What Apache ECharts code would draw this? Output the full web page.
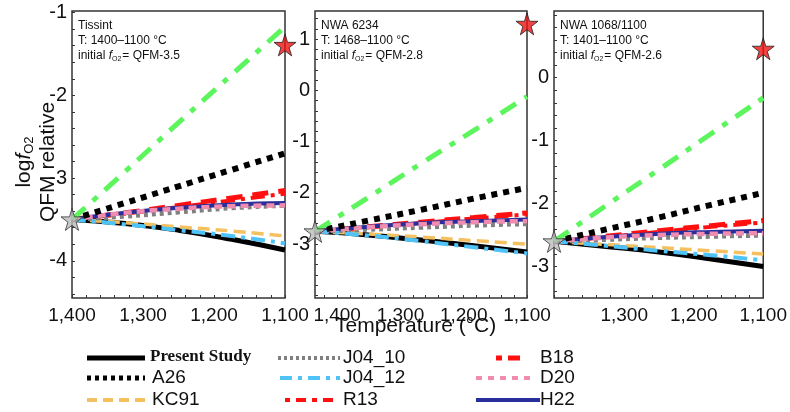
<!DOCTYPE html>
<html><head><meta charset="utf-8">
<script src="https://cdn.jsdelivr.net/npm/echarts@6/dist/echarts.min.js"></script>
<style>html,body{margin:0;background:#fff}#c{width:790px;height:412px}</style>
</head><body><div id="c"></div>
<script>
// panel temps (°C) and log fO2 curves (QFM relative)
var p1Temps = [1400, 1325, 1250, 1175, 1100];
var p1Present = [-3.5, -3.55, -3.63, -3.74, -3.87];
var p1BandLo = [-3.5, -3.6, -3.75, -3.93, -4.15];
var p1BandHi = [-3.5, -3.49, -3.48, -3.48, -3.49];
var p1A26 = [-3.5, -3.3, -3.1, -2.9, -2.7];
var p1Green = [-3.5, -2.92, -2.33, -1.75, -1.17];
var p1KC91 = [-3.5, -3.54, -3.59, -3.64, -3.7];
var p1J0412 = [-3.5, -3.56, -3.63, -3.7, -3.79];
var p1J0410 = [-3.5, -3.46, -3.41, -3.36, -3.33];
var p1B18 = [-3.5, -3.42, -3.33, -3.24, -3.15];
var p1R13 = [-3.5, -3.43, -3.35, -3.27, -3.19];
var p1D20 = [-3.5, -3.42, -3.37, -3.34, -3.33];
var p1H22 = [-3.5, -3.42, -3.36, -3.32, -3.3];
var p1Star = [1100, -1.39];

var p2Temps = [1435, 1351, 1268, 1184, 1100];
var p2Present = [-2.75, -2.82, -2.92, -3.03, -3.15];
var p2BandLo = [-2.75, -2.9, -3.1, -3.32, -3.57];
var p2BandHi = [-2.75, -2.78, -2.8, -2.83, -2.85];
var p2A26 = [-2.75, -2.54, -2.33, -2.11, -1.9];
var p2Green = [-2.75, -2.09, -1.43, -0.78, -0.12];
var p2KC91 = [-2.75, -2.8, -2.86, -2.93, -3.0];
var p2J0412 = [-2.75, -2.83, -2.94, -3.06, -3.18];
var p2J0410 = [-2.75, -2.71, -2.67, -2.63, -2.6];
var p2B18 = [-2.75, -2.66, -2.57, -2.48, -2.39];
var p2R13 = [-2.75, -2.67, -2.59, -2.5, -2.42];
var p2D20 = [-2.75, -2.67, -2.61, -2.57, -2.55];
var p2H22 = [-2.75, -2.66, -2.59, -2.55, -2.52];
var p2Star = [1100, 1.3];

var p3Temps = [1401, 1326, 1250, 1175, 1100];
var p3Present = [-2.6, -2.68, -2.77, -2.88, -3.0];
var p3BandLo = [-2.6, -2.73, -2.88, -3.05, -3.25];
var p3BandHi = [-2.6, -2.64, -2.67, -2.7, -2.72];
var p3A26 = [-2.6, -2.41, -2.22, -2.02, -1.83];
var p3Green = [-2.6, -2.03, -1.46, -0.89, -0.32];
var p3KC91 = [-2.6, -2.65, -2.7, -2.75, -2.8];
var p3J0412 = [-2.6, -2.67, -2.75, -2.82, -2.9];
var p3J0410 = [-2.6, -2.57, -2.54, -2.52, -2.5];
var p3B18 = [-2.6, -2.52, -2.43, -2.35, -2.27];
var p3R13 = [-2.6, -2.53, -2.45, -2.37, -2.3];
var p3D20 = [-2.6, -2.54, -2.5, -2.48, -2.47];
var p3H22 = [-2.6, -2.53, -2.48, -2.45, -2.43];
var p3Star = [1100, 0.46];

var x1Labels = [1400, 1300, 1200, 1100];
var x3Labels = [1300, 1200, 1100];
var y1Labels = [-4, -3, -2, -1];
var y2Labels = [-3, -2, -1, 0, 1];
var y3Labels = [-3, -2, -1, 0];

var STAR = 'path://M50,0 L61,35 L98,35 L68,57 L79,91 L50,70 L21,91 L32,57 L2,35 L39,35 Z';

var panels = [
  {t: p1Temps, pres: p1Present, lo: p1BandLo, hi: p1BandHi, a26: p1A26, g: p1Green, kc: p1KC91, j12: p1J0412, j10: p1J0410, b18: p1B18, r13: p1R13, d20: p1D20, h22: p1H22, star: p1Star,
   left: 72, width: 213, ymin: -4.45, ymax: -0.98, xmax: 1400, ylab: y1Labels, xlab: x1Labels,
   txt: ['Tissint', 'T: 1400–1100 °C'], fo2: 'QFM-3.5'},
  {t: p2Temps, pres: p2Present, lo: p2BandLo, hi: p2BandHi, a26: p2A26, g: p2Green, kc: p2KC91, j12: p2J0412, j10: p2J0410, b18: p2B18, r13: p2R13, d20: p2D20, h22: p2H22, star: p2Star,
   left: 315, width: 212, ymin: -4.05, ymax: 1.55, xmax: 1435, ylab: y2Labels, xlab: x1Labels,
   txt: ['NWA 6234', 'T: 1468–1100 °C'], fo2: 'QFM-2.8'},
  {t: p3Temps, pres: p3Present, lo: p3BandLo, hi: p3BandHi, a26: p3A26, g: p3Green, kc: p3KC91, j12: p3J0412, j10: p3J0410, b18: p3B18, r13: p3R13, d20: p3D20, h22: p3H22, star: p3Star,
   left: 554, width: 214, ymin: -3.5, ymax: 1.06, xmax: 1401, ylab: y3Labels, xlab: x3Labels,
   txt: ['NWA 1068/1100', 'T: 1401–1100 °C'], fo2: 'QFM-2.6'}
];

function zip(t, v) { return t.map(function (x, i) { return [x, v[i]]; }); }
function minorTicks(a, b) { var r = []; for (var v = Math.ceil(a * 5); v <= Math.floor(b * 5); v++) r.push(v / 5); return r; }
function minorX(max) { var r = []; for (var v = 1100; v <= max; v += 20) r.push(v); return r; }

var grids = [], xAxes = [], yAxes = [], series = [], graphics = [];
panels.forEach(function (p, k) {
  grids.push({left: p.left, width: p.width, top: 11, height: 287, show: true, borderColor: '#333', borderWidth: 1.5, backgroundColor: 'transparent'});
  xAxes.push({type: 'value', gridIndex: k, min: 1100, max: p.xmax, inverse: true,
    axisLine: {show: false, onZero: false}, splitLine: {show: false},
    axisTick: {inside: true, length: 3, lineStyle: {color: '#333'}, customValues: minorX(p.xmax)},
    axisLabel: {fontSize: 19, color: '#111', fontFamily: 'Liberation Sans', margin: 8, customValues: p.xlab}});
  yAxes.push({type: 'value', gridIndex: k, min: p.ymin, max: p.ymax,
    axisLine: {show: false, onZero: false}, splitLine: {show: false},
    axisTick: {inside: true, length: 3, lineStyle: {color: '#333'}, customValues: minorTicks(p.ymin, p.ymax)},
    axisLabel: {fontSize: 20, color: '#111', fontFamily: 'Liberation Sans', margin: 5, customValues: p.ylab}});
  function ln(name, data, color, w, dash, z) {
    series.push({name: name, type: 'line', xAxisIndex: k, yAxisIndex: k, data: zip(p.t, data), smooth: true,
      symbol: 'none', silent: true, z: z || 3, lineStyle: {color: color, width: w, type: dash || 'solid', cap: 'butt'}});
  }
  // grey uncertainty band
  series.push({type: 'line', xAxisIndex: k, yAxisIndex: k, stack: 'band' + k, stackStrategy: 'all', data: zip(p.t, p.lo), smooth: true, symbol: 'none', lineStyle: {opacity: 0}, silent: true, z: 1});
  series.push({type: 'line', xAxisIndex: k, yAxisIndex: k, stack: 'band' + k, stackStrategy: 'all',
    data: zip(p.t, p.hi.map(function (v, i) { return v - p.lo[i]; })), smooth: true, symbol: 'none',
    lineStyle: {opacity: 0}, areaStyle: {color: '#e0e0e0', opacity: 1}, silent: true, z: 1});
  ln('Present Study', p.pres, '#000', 5, 'solid', 3);
  ln('J04_12', p.j12, '#4fc3f7', 4, [14, 6, 4, 6], 4);
  ln('KC91', p.kc, '#f5c060', 3.5, [12, 6], 3);
  ln('J04_10', p.j10, '#808080', 5, [4, 4], 3);
  ln('H22', p.h22, '#2a2e9a', 4, 'solid', 3);
  ln('D20', p.d20, '#f08cb0', 4.5, [8, 5], 4);
  ln('R13', p.r13, '#ff1010', 4, [14, 6, 4, 6], 2);
  ln('B18', p.b18, '#ff1010', 5, [16, 10], 2);
  ln('A26', p.a26, '#000', 6, [6, 6], 5);
  ln('green', p.g, '#5df55d', 5, [18, 10, 6, 10], 5);
  series.push({type: 'scatter', xAxisIndex: k, yAxisIndex: k, symbol: STAR, symbolSize: 22, z: 10, silent: true,
    data: [p.star], itemStyle: {color: '#ee1111', borderColor: '#222', borderWidth: 1}});
  series.push({type: 'scatter', xAxisIndex: k, yAxisIndex: k, symbol: STAR, symbolSize: 22, z: 10, silent: true,
    data: [[p.t[0], p.pres[0]]], itemStyle: {color: '#bbb', borderColor: '#333', borderWidth: 1}});
  graphics.push({type: 'text', left: p.left + 6, top: 18, z: 20, style: {
    text: p.txt[0] + '\n' + p.txt[1] + '\ninitial {i|f}{s|O2}= ' + p.fo2,
    font: '12px Liberation Sans', fill: '#111', lineHeight: 15,
    rich: {i: {fontStyle: 'italic', fontSize: 12}, s: {fontSize: 7, verticalAlign: 'bottom', padding: [6, 1, 0, 0]}}}});
});

// y title and x title
graphics.push({type: 'text', x: 12, y: 162, rotation: Math.PI / 2, style: {
  text: 'log{i|f}{s|O2}\nQFM relative', font: '21px Liberation Sans', fill: '#111', align: 'center', lineHeight: 24,
  rich: {i: {fontStyle: 'italic', fontSize: 21}, s: {fontSize: 13, verticalAlign: 'bottom', padding: [8, 0, 0, 0]}}}});
graphics.push({type: 'text', left: 335, top: 316, style: {text: 'Temperature (°C)', font: '21px Liberation Sans', fill: '#111'}});

// legend
var legendRows = [
  ['Present Study', '#000', 5, null, 87, 145, 150, 358, true],
  ['A26', '#000', 5, [4, 4], 87, 145, 152, 378],
  ['KC91', '#f5c060', 4, [10, 6], 87, 145, 152, 400],
  ['J04_10', '#808080', 4, [3, 3], 278, 340, 343, 358],
  ['J04_12', '#4fc3f7', 4, [12, 6, 4, 6], 280, 340, 343, 378],
  ['R13', '#ff1010', 4, [5, 6, 10, 6], 285, 336, 343, 400],
  ['B18', '#ff1010', 5, [6, 6, 12, 6], 496, 523, 540, 358],
  ['D20', '#f08cb0', 4, [6, 6], 476, 533, 540, 378],
  ['H22', '#2a2e9a', 4, null, 476, 540, 540, 400]
];
legendRows.forEach(function (r) {
  graphics.push({type: 'line', shape: {x1: r[4], y1: r[7], x2: r[5], y2: r[7]},
    style: {stroke: r[1], lineWidth: r[2], lineDash: r[3]}});
  graphics.push({type: 'text', left: r[6], top: r[7] - 10, style: {text: r[0],
    font: (r[8] ? 'bold 17px Liberation Sans Narrow' : '19px Liberation Sans'), fill: '#111'}});
});

var chart = echarts.init(document.getElementById('c'));
chart.setOption({animation: false, grid: grids, xAxis: xAxes, yAxis: yAxes, series: series, graphic: graphics});
</script></body></html>
